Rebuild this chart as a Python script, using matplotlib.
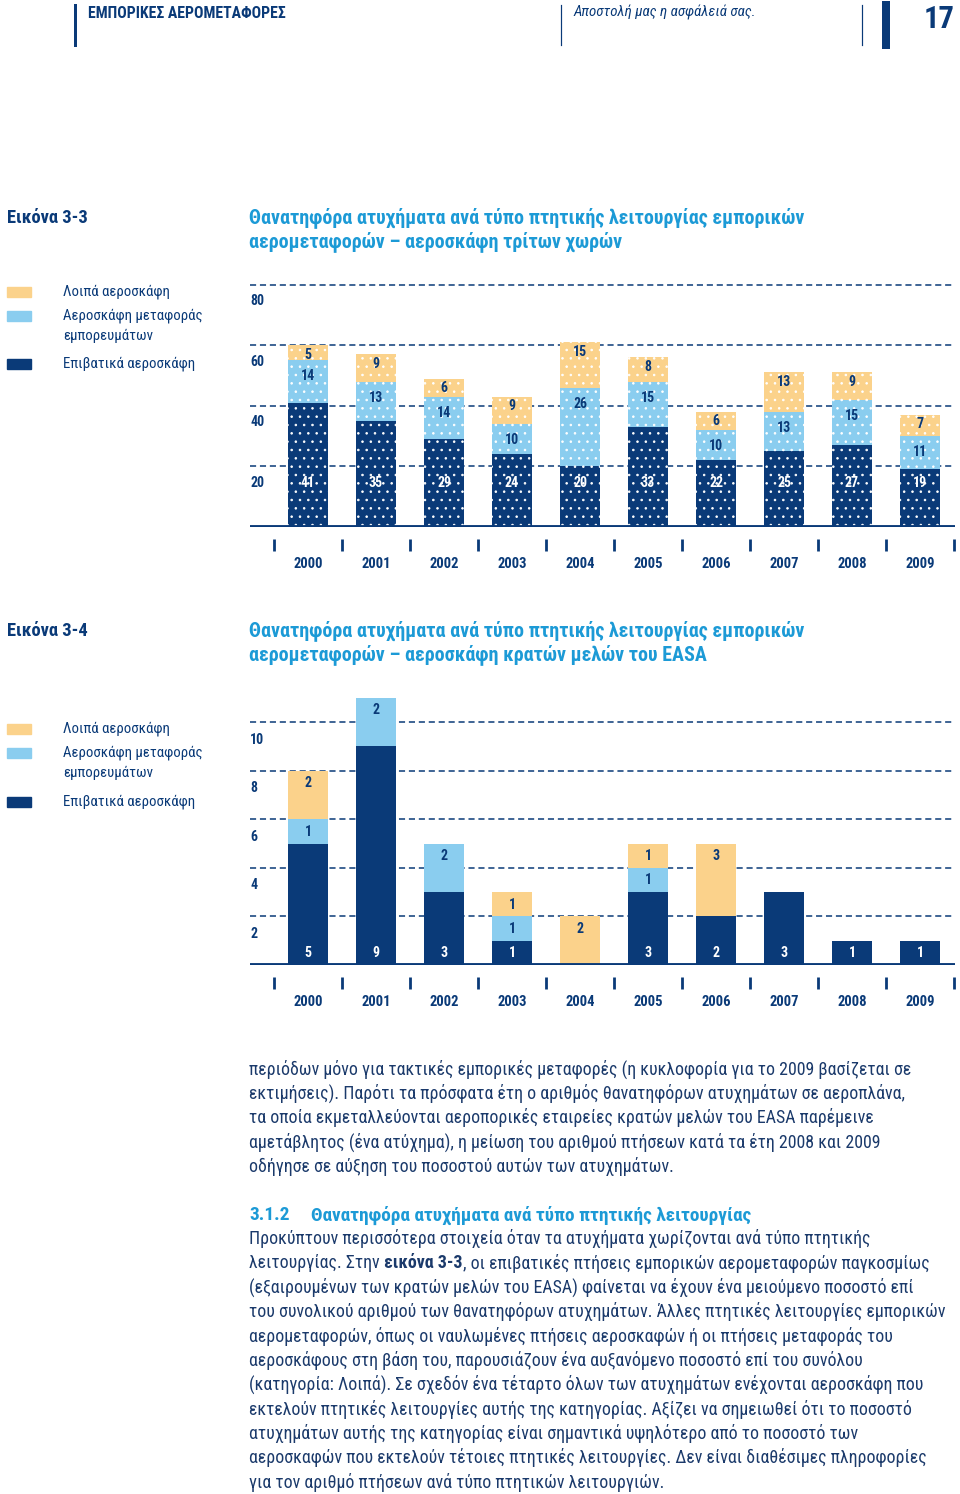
import matplotlib
matplotlib.use("Agg")
import matplotlib.pyplot as plt
import matplotlib.transforms as mtransforms
from matplotlib import font_manager
from matplotlib.patches import Rectangle
from matplotlib.lines import Line2D
import numpy as np

# Δεδομένα
years = ["2000", "2001", "2002", "2003", "2004", "2005", "2006", "2007", "2008", "2009"]
series_names = ["Λοιπά αεροσκάφη", "Αεροσκάφη μεταφοράς\nεμπορευμάτων", "Επιβατικά αεροσκάφη"]

# Εικόνα 3-3: αεροσκάφη τρίτων χωρών
pass_33 = [41, 35, 29, 24, 20, 33, 22, 25, 27, 19]
cargo_33 = [14, 13, 14, 10, 26, 15, 10, 13, 15, 11]
other_33 = [5, 9, 6, 9, 15, 8, 6, 13, 9, 7]
yticks_33 = [20, 40, 60, 80]

# Εικόνα 3-4: αεροσκάφη κρατών μελών του EASA
pass_34 = [5, 9, 3, 1, 0, 3, 2, 3, 1, 1]
cargo_34 = [1, 2, 2, 1, 0, 1, 0, 0, 0, 0]
other_34 = [2, 0, 0, 1, 2, 1, 3, 0, 0, 0]
yticks_34 = [2, 4, 6, 8, 10]

# Χρώματα
NAVY = "#0a3a78"
LBLUE = "#8acdef"
ORANGE = "#fbd28b"
BLUE_T = "#1c9ad6"
TEXT = "#1b3a6b"

avail = {f.name for f in font_manager.fontManager.ttflist}


def pick(*names):
    for n in names:
        if n in avail:
            return n
    return "DejaVu Sans"


NARROW = pick("Liberation Sans Narrow", "Roboto Condensed", "DejaVu Sans Condensed", "Open Sans", "Roboto")
plt.rcParams["font.family"] = [NARROW, "DejaVu Sans"]
plt.rcParams["hatch.linewidth"] = 0.6

W, H = 960, 1494
fig = plt.figure(figsize=(W / 100, H / 100), dpi=100)


def fx(x):
    return x / W


def fy(y):
    return 1 - y / H


def px2pt(p):
    return p * 0.72


# Κεφαλίδα σελίδας
for x0, lw in [(75, 3), (561, 1.2), (862, 1.2), (886, 8)]:
    fig.add_artist(Line2D([fx(x0), fx(x0)], [fy(5), fy(45)], color=NAVY, lw=lw * 0.72))
fig.text(fx(88), fy(13), "ΕΜΠΟΡΙΚΕΣ ΑΕΡΟΜΕΤΑΦΟΡΕΣ", fontsize=11.3, fontweight="bold",
         color=NAVY, va="center", ha="left")
fig.text(fx(573), fy(13), "Αποστολή μας η ασφάλειά σας.", fontsize=10.8, style="italic",
         color=NAVY, va="center", ha="left")
fig.text(fx(955), fy(19), "17", fontsize=22, fontweight="bold", color=NAVY, va="center", ha="right")


def draw_block(top_y, label, title_lines, legend_ys):
    fig.text(fx(7), fy(top_y), label, fontsize=13.3, fontweight="bold", color=NAVY, va="center")
    for k, line in enumerate(title_lines):
        fig.text(fx(249), fy(top_y + 24 * k), line, fontsize=14.4, fontweight="bold",
                 color=BLUE_T, va="center")
    for col, name, ly in zip([ORANGE, LBLUE, NAVY], series_names, legend_ys):
        fig.add_artist(Rectangle((fx(7), fy(ly + 5)), 24 / W, 10 / H, color=col,
                                 transform=fig.transFigure))
        for j, part in enumerate(name.split("\n")):
            fig.text(fx(63), fy(ly + 20 * j), part, fontsize=10.7, color=NAVY, va="center")


def draw_chart(box, ylim, pas, cargo, other, yticks, hatch, off_pass, off_cargo, off_other, lab_dy):
    x0, y_top, x1, y_base = box
    ax = fig.add_axes([fx(x0), fy(y_base), (x1 - x0) / W, (y_base - y_top) / H])
    x = np.arange(len(years))
    ax.set_xlim((x0 - 308) / 68, (x1 - 308) / 68)
    ax.set_ylim(0, ylim)
    w = 40 / 68
    pas = np.array(pas)
    cargo = np.array(cargo)
    other = np.array(other)
    kw = dict(width=w, hatch=hatch, edgecolor="white", linewidth=0, zorder=2)
    ax.bar(x, pas, color=NAVY, **kw)
    ax.bar(x, cargo, bottom=pas, color=LBLUE, **kw)
    ax.bar(x, other, bottom=pas + cargo, color=ORANGE, **kw)
    ax.axhline(0, color=NAVY, lw=3.5, zorder=3)

    for i in x:
        if pas[i]:
            ax.annotate(str(pas[i]), (i, 0), xytext=(0, px2pt(off_pass)), textcoords="offset points",
                        ha="center", va="center", color="white", fontsize=10, fontweight="bold")
        if cargo[i]:
            ax.annotate(str(cargo[i]), (i, pas[i] + cargo[i]), xytext=(0, -px2pt(off_cargo)),
                        textcoords="offset points", ha="center", va="center", color=NAVY,
                        fontsize=10, fontweight="bold")
        if other[i]:
            ax.annotate(str(other[i]), (i, pas[i] + cargo[i] + other[i]), xytext=(0, -px2pt(off_other)),
                        textcoords="offset points", ha="center", va="center", color=NAVY,
                        fontsize=10, fontweight="bold")

    # άξονας y: διακεκομμένες γραμμές, ετικέτες κάτω από τη γραμμή
    ax.set_yticks(yticks)
    ax.set_yticklabels([str(v) for v in yticks])
    ax.tick_params(axis="y", length=0, pad=0, labelsize=10, labelcolor=NAVY)
    shift = mtransforms.ScaledTranslation(0, -lab_dy / 100, fig.dpi_scale_trans)
    for lab in ax.get_yticklabels():
        lab.set_horizontalalignment("left")
        lab.set_fontweight("bold")
        lab.set_transform(lab.get_transform() + shift)
    ax.yaxis.grid(True, linestyle=(0, (4, 2.5)), color=NAVY, lw=1.1)
    ax.set_axisbelow(True)

    # άξονας x: έτη και διαχωριστικά
    for s in ax.spines.values():
        s.set_visible(False)
    ax.spines["bottom"].set_position(("outward", px2pt(12)))
    ax.set_xticks(x)
    ax.set_xticklabels(years)
    ax.set_xticks(np.arange(-0.5, len(years), 1), minor=True)
    ax.tick_params(axis="x", which="major", length=0, pad=px2pt(18), labelsize=10.5, labelcolor=NAVY)
    for lab in ax.get_xticklabels():
        lab.set_fontweight("bold")
    ax.tick_params(axis="x", which="minor", length=px2pt(12), width=2, color=NAVY, direction="out")
    return ax


# Εικόνα 3-3
draw_block(218, "Εικόνα 3-3",
           ["Θανατηφόρα ατυχήματα ανά τύπο πτητικής λειτουργίας εμπορικών",
            "αερομεταφορών – αεροσκάφη τρίτων χωρών"],
           [292, 316, 364])
draw_chart((250, 280, 955, 527), (527 - 280) / 3.03, pass_33, cargo_33, other_33, yticks_33,
           "..", 44, 16, 9.5, 15)

# Εικόνα 3-4
draw_block(631, "Εικόνα 3-4",
           ["Θανατηφόρα ατυχήματα ανά τύπο πτητικής λειτουργίας εμπορικών",
            "αερομεταφορών – αεροσκάφη κρατών μελών του EASA"],
           [729, 753, 802])
draw_chart((250, 690, 955, 965), (965 - 690) / 24.3, pass_34, cargo_34, other_34, yticks_34,
           None, 12, 12.5, 12.5, 16)

# Κείμενο
BODY = 12.9
para1 = [
    "περιόδων μόνο για τακτικές εμπορικές μεταφορές (η κυκλοφορία για το 2009 βασίζεται σε",
    "εκτιμήσεις). Παρότι τα πρόσφατα έτη ο αριθμός θανατηφόρων ατυχημάτων σε αεροπλάνα,",
    "τα οποία εκμεταλλεύονται αεροπορικές εταιρείες κρατών μελών του EASA παρέμεινε",
    "αμετάβλητος (ένα ατύχημα), η μείωση του αριθμού πτήσεων κατά τα έτη 2008 και 2009",
    "οδήγησε σε αύξηση του ποσοστού αυτών των ατυχημάτων.",
]
for k, line in enumerate(para1):
    fig.text(fx(249), fy(1069 + 24.3 * k), line, fontsize=BODY, color=TEXT, va="center")

fig.text(fx(249), fy(1215), "3.1.2", fontsize=13.9, fontweight="bold", color=BLUE_T, va="center")
fig.text(fx(311), fy(1215), "Θανατηφόρα ατυχήματα ανά τύπο πτητικής λειτουργίας", fontsize=13.9,
         fontweight="bold", color=BLUE_T, va="center")

para2 = [
    "Προκύπτουν περισσότερα στοιχεία όταν τα ατυχήματα χωρίζονται ανά τύπο πτητικής",
    None,
    "(εξαιρουμένων των κρατών μελών του EASA) φαίνεται να έχουν ένα μειούμενο ποσοστό επί",
    "του συνολικού αριθμού των θανατηφόρων ατυχημάτων. Άλλες πτητικές λειτουργίες εμπορικών",
    "αερομεταφορών, όπως οι ναυλωμένες πτήσεις αεροσκαφών ή οι πτήσεις μεταφοράς του",
    "αεροσκάφους στη βάση του, παρουσιάζουν ένα αυξανόμενο ποσοστό επί του συνόλου",
    "(κατηγορία: Λοιπά). Σε σχεδόν ένα τέταρτο όλων των ατυχημάτων ενέχονται αεροσκάφη που",
    "εκτελούν πτητικές λειτουργίες αυτής της κατηγορίας. Αξίζει να σημειωθεί ότι το ποσοστό",
    "ατυχημάτων αυτής της κατηγορίας είναι σημαντικά υψηλότερο από το ποσοστό των",
    "αεροσκαφών που εκτελούν τέτοιες πτητικές λειτουργίες. Δεν είναι διαθέσιμες πληροφορίες",
    "για τον αριθμό πτήσεων ανά τύπο πτητικών λειτουργιών.",
]
renderer = fig.canvas.get_renderer()
for k, line in enumerate(para2):
    yy = fy(1239 + 24.3 * k)
    if line is not None:
        fig.text(fx(249), yy, line, fontsize=BODY, color=TEXT, va="center")
        continue
    t1 = fig.text(fx(249), yy, "λειτουργίας. Στην", fontsize=BODY, color=TEXT, va="center")
    bb = t1.get_window_extent(renderer)
    t2 = fig.text((bb.x1 + 4.5) / W, yy, "εικόνα 3-3", fontsize=BODY, fontweight="bold",
                  color=TEXT, va="center")
    bb = t2.get_window_extent(renderer)
    fig.text(bb.x1 / W, yy, ", οι επιβατικές πτήσεις εμπορικών αερομεταφορών παγκοσμίως",
             fontsize=BODY, color=TEXT, va="center")

fig.savefig("out.png", dpi=100)
